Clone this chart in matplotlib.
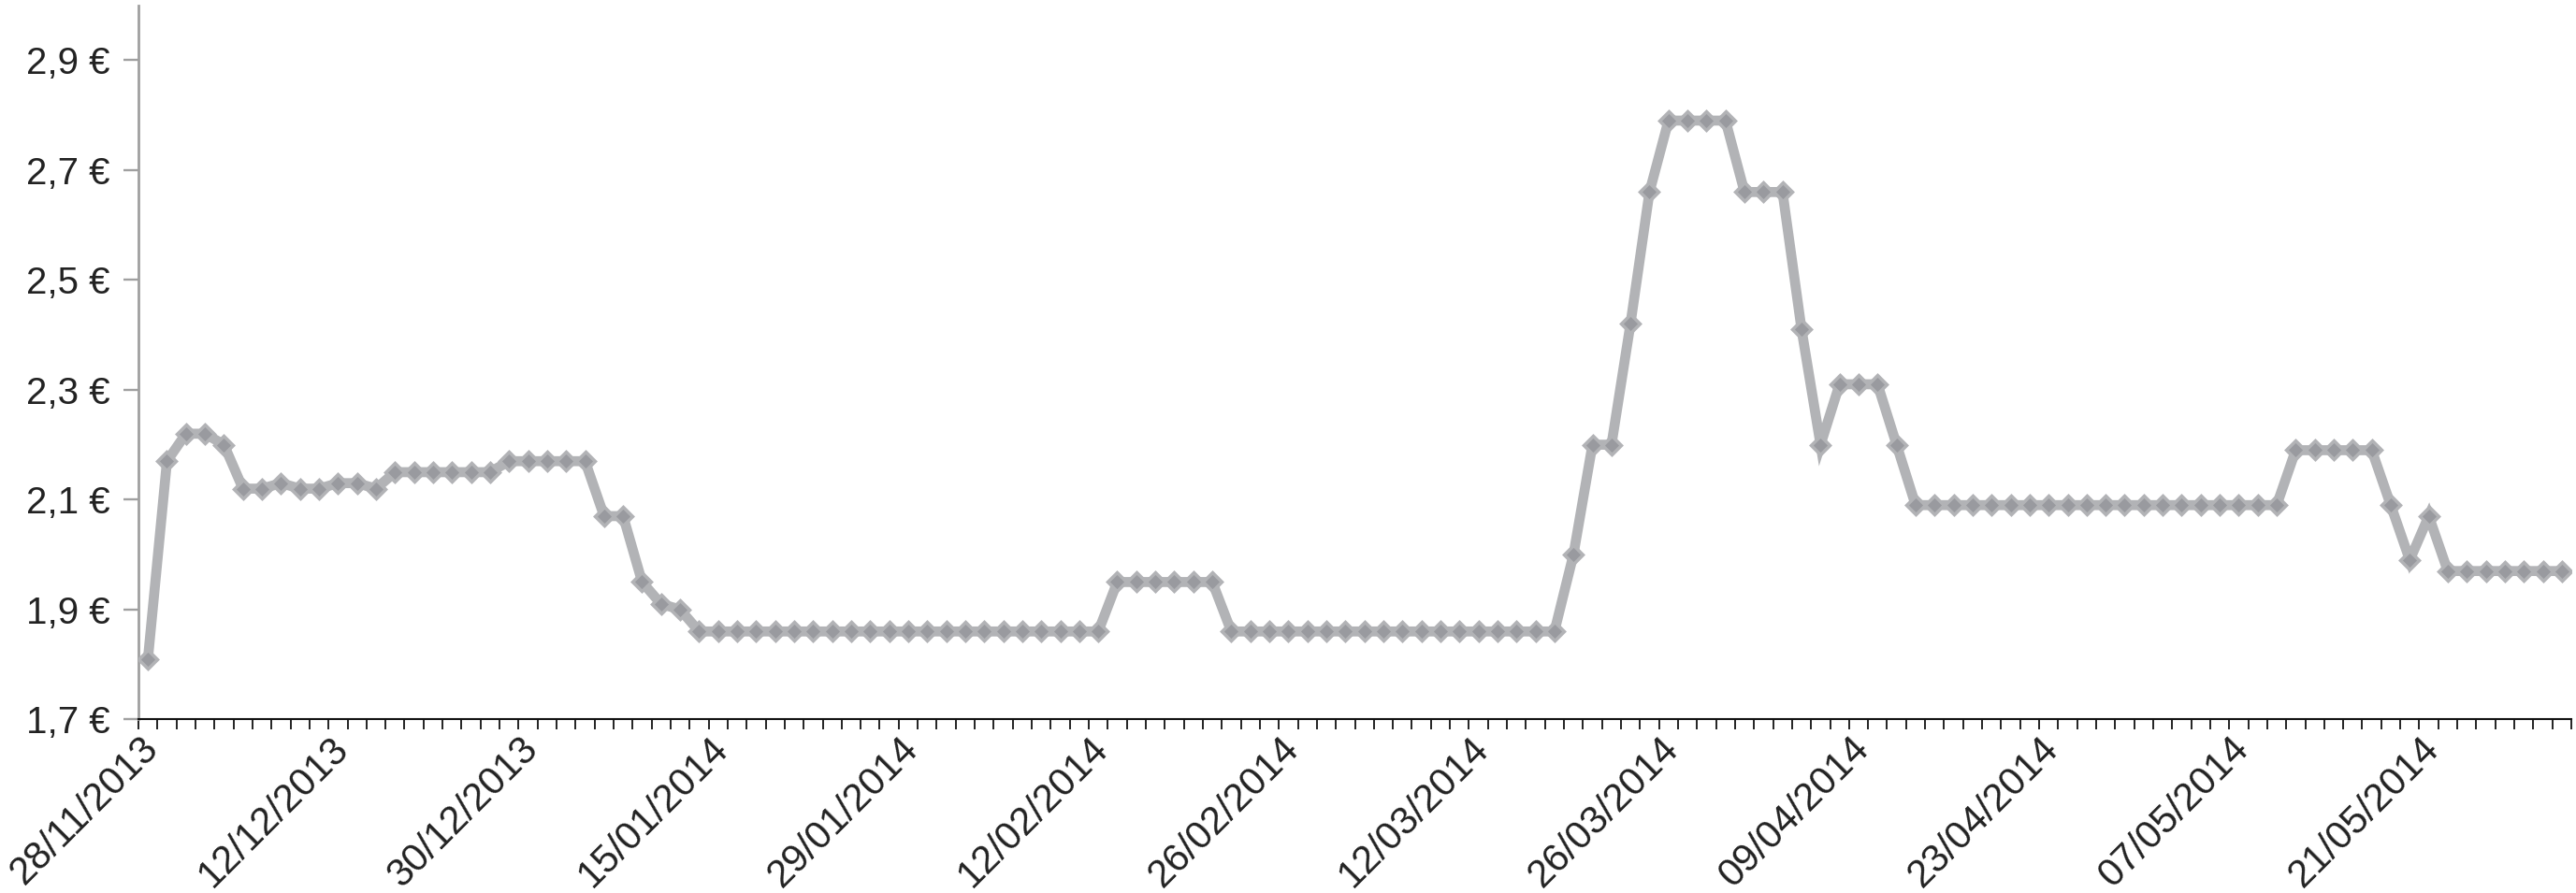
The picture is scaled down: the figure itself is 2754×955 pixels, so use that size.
import matplotlib
matplotlib.use("Agg")
import matplotlib.pyplot as plt
import matplotlib.transforms as mtransforms
import numpy as np

# ---- data ----
prices = [
    1.81, 2.17, 2.22, 2.22, 2.20, 2.12, 2.12, 2.13, 2.12, 2.12,
    2.13, 2.13, 2.12, 2.15, 2.15, 2.15, 2.15, 2.15, 2.15, 2.17,
    2.17, 2.17, 2.17, 2.17, 2.07, 2.07, 1.95, 1.91, 1.90, 1.86,
    1.86, 1.86, 1.86, 1.86, 1.86, 1.86, 1.86, 1.86, 1.86, 1.86,
    1.86, 1.86, 1.86, 1.86, 1.86, 1.86, 1.86, 1.86, 1.86, 1.86,
    1.86, 1.95, 1.95, 1.95, 1.95, 1.95, 1.95, 1.86, 1.86, 1.86,
    1.86, 1.86, 1.86, 1.86, 1.86, 1.86, 1.86, 1.86, 1.86, 1.86,
    1.86, 1.86, 1.86, 1.86, 1.86, 2.00, 2.20, 2.20, 2.42, 2.66,
    2.79, 2.79, 2.79, 2.79, 2.66, 2.66, 2.66, 2.41, 2.20, 2.31,
    2.31, 2.31, 2.20, 2.09, 2.09, 2.09, 2.09, 2.09, 2.09, 2.09,
    2.09, 2.09, 2.09, 2.09, 2.09, 2.09, 2.09, 2.09, 2.09, 2.09,
    2.09, 2.09, 2.09, 2.19, 2.19, 2.19, 2.19, 2.19, 2.09, 1.99,
    2.07, 1.97, 1.97, 1.97, 1.97, 1.97, 1.97, 1.97,
]
date_labels = [
    "28/11/2013", "12/12/2013", "30/12/2013", "15/01/2014", "29/01/2014",
    "12/02/2014", "26/02/2014", "12/03/2014", "26/03/2014", "09/04/2014",
    "23/04/2014", "07/05/2014", "21/05/2014",
]
label_step = 10
y_ticks = [1.7, 1.9, 2.1, 2.3, 2.5, 2.7, 2.9]
y_tick_labels = ["1,7 €", "1,9 €", "2,1 €", "2,3 €", "2,5 €", "2,7 €", "2,9 €"]

# ---- plot ----
plt.rcParams['font.family'] = ['Liberation Sans', 'DejaVu Sans']

W, H = 2754, 955
fig = plt.figure(figsize=(W / 100, H / 100), dpi=100)
left, right = 148 / W, 2749 / W
bottom = (H - 769.3) / H
top_px = 5.6
ax = fig.add_axes([left, bottom, right - left, (769.3 - top_px) / H])

n = len(prices)
x = np.arange(n)
ax.plot(x, prices, color='#b2b3b6', lw=7.7, solid_joinstyle='miter',
        marker='D', ms=10.2, mfc='#999a9f', mec='#b2b3b6', mew=2.5, zorder=3)

ax.set_xlim(-0.5, n - 0.5)
ax.set_ylim(1.7, 3.0)

# y axis
ax.set_yticks(y_ticks)
ax.set_yticklabels(y_tick_labels, fontsize=29, color='#222222')
ax.tick_params(axis='y', length=11.3, width=1.7, color='#a0a0a0', pad=10.5)

# x axis: minor ticks at category boundaries, labels every 10 categories
ax.set_xticks(np.arange(n + 1) - 0.5, minor=True)
ax.set_xticks(x[::label_step])
ax.set_xticklabels(date_labels, fontsize=30, color='#222222', rotation=45,
                   ha='right', va='center', rotation_mode='anchor')
ax.tick_params(axis='x', which='major', length=0, pad=18)
ax.tick_params(axis='x', which='minor', length=7.7, width=1.3, color='#111111')
shift = mtransforms.ScaledTranslation(5 / 100, 0, fig.dpi_scale_trans)
for lab in ax.get_xticklabels():
    lab.set_transform(lab.get_transform() + shift)

for s in ['top', 'right']:
    ax.spines[s].set_visible(False)
ax.spines['left'].set_color('#a0a0a0')
ax.spines['left'].set_linewidth(2.0)
ax.spines['bottom'].set_color('#111111')
ax.spines['bottom'].set_linewidth(1.5)

fig.savefig('out.png', dpi=100)
